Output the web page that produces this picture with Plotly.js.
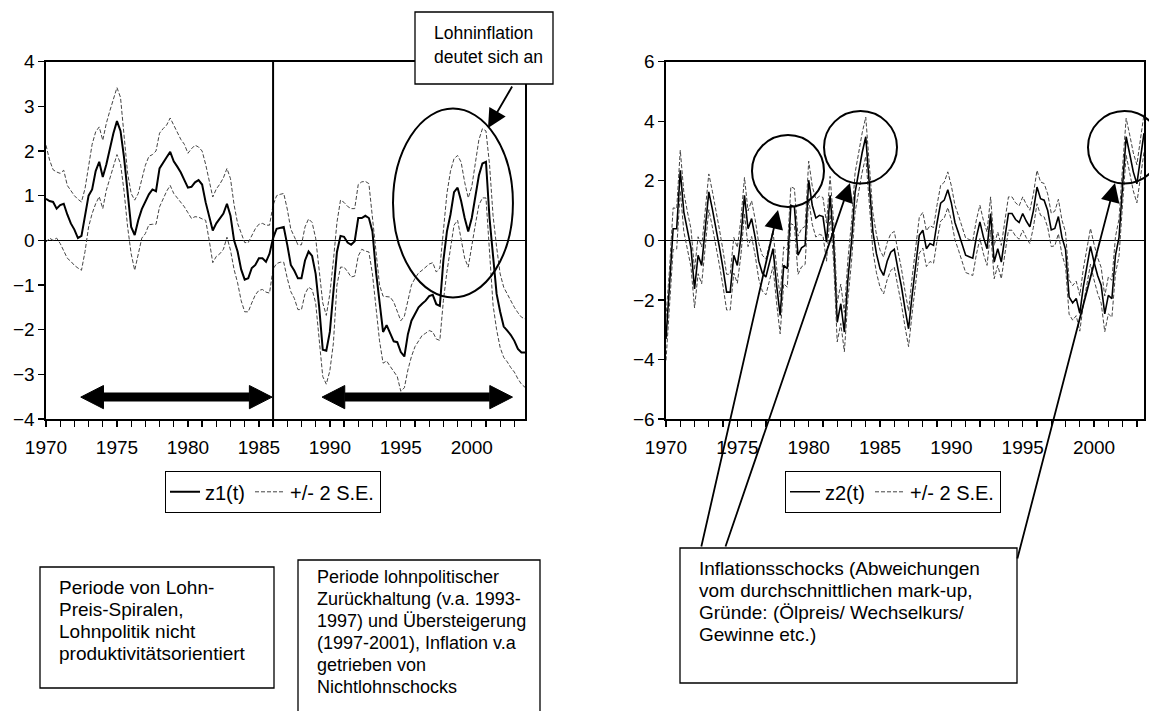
<!DOCTYPE html>
<html>
<head>
<meta charset="utf-8">
<script src="https://cdn.plot.ly/plotly-3.0.1.min.js"></script>
<style>html,body{margin:0;padding:0;background:#fff;}#chart{width:1149px;height:711px;}</style>
</head>
<body>
<div id="chart"></div>
<script>
// ---------- DATA (quarterly, first observation 1970Q1) ----------
const startYear = 1970;
const tickYears = [1970,1971,1972,1973,1974,1975,1976,1977,1978,1979,1980,1981,1982,1983,1984,1985,1986,1987,1988,1989,1990,1991,1992,1993,1994,1995,1996,1997,1998,1999,2000,2001,2002,2003];
const labelYears = [1970,1975,1980,1985,1990,1995,2000];
const leftYTicks = [-4,-3,-2,-1,0,1,2,3,4];
const rightYTicks = [-6,-4,-2,0,2,4,6];

const z1 = [0.93,0.88,0.86,0.71,0.79,0.82,0.58,0.38,0.24,0.05,
  0.10,0.55,1.00,1.14,1.55,1.76,1.42,1.70,2.05,2.40,
  2.67,2.45,1.85,1.00,0.30,0.12,0.45,0.70,0.86,1.03,
  1.14,1.10,1.61,1.75,1.86,1.98,1.77,1.65,1.52,1.35,
  1.18,1.20,1.30,1.35,1.25,0.85,0.55,0.22,0.38,0.48,
  0.60,0.82,0.55,0.00,-0.25,-0.65,-0.88,-0.85,-0.62,-0.55,
  -0.40,-0.40,-0.48,-0.30,0.05,0.26,0.28,0.30,-0.10,-0.55,
  -0.68,-0.85,-0.85,-0.45,-0.25,-0.35,-0.75,-1.50,-2.45,-2.47,
  -2.05,-1.20,-0.26,0.10,0.08,-0.05,-0.10,-0.02,0.50,0.50,
  0.55,0.50,0.20,-0.70,-1.45,-2.05,-1.90,-2.10,-2.26,-2.28,
  -2.50,-2.60,-2.10,-1.80,-1.65,-1.50,-1.42,-1.35,-1.25,-1.22,
  -1.43,-1.47,-0.45,0.20,0.58,1.08,1.18,0.88,0.50,0.20,
  0.50,0.95,1.45,1.72,1.76,0.50,-0.40,-1.20,-1.60,-1.93,
  -2.02,-2.12,-2.25,-2.43,-2.51,-2.51];

const z1Upper = [2.13,1.80,1.58,1.53,1.50,1.57,1.23,1.10,1.00,0.92,
  0.86,1.16,1.70,2.15,2.43,2.54,2.24,2.62,2.90,3.15,
  3.42,3.20,2.40,1.50,1.05,0.90,1.05,1.35,1.68,1.88,
  1.92,2.00,2.40,2.50,2.58,2.74,2.58,2.42,2.26,2.15,
  1.95,2.05,2.13,2.09,2.00,1.70,1.33,0.97,1.15,1.26,
  1.40,1.61,1.38,0.80,0.38,0.15,-0.05,-0.05,0.12,0.26,
  0.36,0.38,0.34,0.34,0.79,1.00,1.03,1.05,0.70,0.25,
  0.08,-0.10,-0.10,0.30,0.48,0.40,0.05,-0.70,-1.40,-1.68,
  -1.20,-0.45,0.40,0.90,0.85,0.76,0.71,0.71,1.25,1.31,
  1.32,1.27,0.49,-0.25,-1.00,-1.25,-1.26,-1.27,-1.38,-1.58,
  -1.80,-1.70,-1.32,-1.00,-0.85,-0.73,-0.67,-0.60,-0.53,-0.50,
  -0.71,-0.62,0.20,1.05,1.55,1.83,1.90,1.75,1.30,0.95,
  1.20,1.70,2.25,2.50,2.45,1.70,0.55,-0.15,-0.75,-1.05,
  -1.20,-1.38,-1.50,-1.62,-1.72,-1.76];

const z1Lower = [-0.04,0.05,0.00,0.05,-0.07,-0.22,-0.40,-0.47,-0.56,-0.62,
  -0.67,-0.25,0.30,0.60,0.82,0.98,0.71,1.12,1.40,1.70,
  1.92,1.72,1.10,0.30,-0.30,-0.67,-0.30,0.05,0.15,0.35,
  0.36,0.36,0.75,0.92,1.10,1.23,1.05,0.95,0.85,0.75,
  0.62,0.49,0.53,0.52,0.48,0.45,0.00,-0.50,-0.36,-0.30,
  -0.20,0.07,-0.22,-0.65,-0.95,-1.35,-1.60,-1.60,-1.40,-1.22,
  -1.12,-1.10,-1.16,-1.18,-0.64,-0.52,-0.49,-0.49,-0.85,-1.15,
  -1.30,-1.55,-1.55,-1.20,-1.05,-1.10,-1.40,-2.30,-3.05,-3.22,
  -2.92,-2.30,-1.00,-0.60,-0.60,-0.70,-0.82,-0.80,-0.35,-0.20,
  -0.24,-0.26,-0.75,-1.50,-2.25,-2.75,-2.70,-2.82,-2.95,-3.05,
  -3.38,-3.30,-2.90,-2.60,-2.38,-2.25,-2.13,-2.08,-2.02,-2.05,
  -2.21,-2.24,-1.35,-0.70,-0.20,0.34,0.45,0.05,-0.40,-0.60,
  -0.10,0.35,0.79,0.95,0.95,-0.20,-1.45,-2.00,-2.40,-2.62,
  -2.72,-2.85,-2.95,-3.10,-3.22,-3.29];

const z2 = [-3.31,-1.63,0.39,0.39,2.35,0.95,0.30,-0.25,-1.63,-0.50,
  -0.84,0.39,1.63,1.05,0.45,-0.25,-0.95,-1.74,-1.74,-0.50,
  -0.84,0.10,1.51,0.39,0.73,0.10,-0.70,-1.10,-1.23,-0.80,
  -0.28,-1.50,-2.52,-0.84,-0.95,1.18,1.12,-0.50,-0.25,-0.17,
  2.02,1.18,0.75,0.84,0.80,-0.06,1.51,-0.06,-2.75,-2.13,
  -3.08,-1.30,-0.06,1.60,2.35,2.95,3.48,1.96,0.28,-0.45,
  -0.95,-1.18,-0.70,-0.40,-0.30,-0.95,-1.55,-2.30,-2.97,-1.85,
  -0.75,0.17,0.34,-0.28,-0.11,-0.17,0.60,1.25,1.35,1.70,
  1.25,0.60,0.25,-0.15,-0.50,-0.55,-0.60,0.10,0.62,0.10,
  -0.28,0.90,-0.73,-0.28,-0.73,0.10,0.90,0.90,0.70,0.60,
  0.90,0.65,0.45,1.00,1.79,1.40,1.35,1.00,0.35,0.40,
  0.80,0.10,-0.30,-1.90,-2.10,-1.95,-2.45,-1.55,-0.84,-0.20,
  -0.73,-1.18,-1.51,-2.47,-1.85,-1.96,-0.50,0.10,1.85,3.48,
  2.90,2.30,1.90,2.80,3.60];

// standard error of z2 (band = z2 +/- 2 S.E.)
const z2SE = [0.36,0.35,0.35,0.34,0.34,0.33,0.33,0.32,0.32,0.31,
  0.31,0.31,0.30,0.30,0.30,0.30,0.30,0.30,0.30,0.30,
  0.30,0.30,0.30,0.30,0.30,0.30,0.30,0.30,0.30,0.30,
  0.30,0.30,0.31,0.31,0.31,0.31,0.31,0.32,0.32,0.32,
  0.32,0.32,0.32,0.32,0.32,0.32,0.32,0.33,0.33,0.33,
  0.33,0.33,0.33,0.33,0.33,0.33,0.33,0.32,0.32,0.32,
  0.31,0.31,0.31,0.31,0.30,0.30,0.30,0.30,0.30,0.30,
  0.30,0.30,0.30,0.30,0.30,0.30,0.30,0.30,0.30,0.30,
  0.29,0.29,0.29,0.29,0.29,0.29,0.29,0.29,0.28,0.28,
  0.28,0.28,0.28,0.28,0.28,0.28,0.28,0.28,0.28,0.28,
  0.28,0.28,0.28,0.28,0.28,0.28,0.28,0.28,0.28,0.29,
  0.29,0.29,0.29,0.29,0.29,0.29,0.30,0.30,0.30,0.30,
  0.30,0.30,0.30,0.30,0.31,0.31,0.31,0.31,0.31,0.31,
  0.32,0.32,0.32,0.32,0.32];

const box1Lines = ['Periode von Lohn-','Preis-Spiralen,','Lohnpolitik nicht','produktivitätsorientiert'];
const box2Lines = ['Periode lohnpolitischer','Zurückhaltung (v.a. 1993-','1997) und Übersteigerung','(1997-2001), Inflation v.a','getrieben von','Nichtlohnschocks'];
const box3Lines = ['Inflationsschocks (Abweichungen','vom durchschnittlichen mark-up,','Gründe: (Ölpreis/ Wechselkurs/','Gewinne etc.)'];
const box4Lines = ['Lohninflation','deutet sich an'];

// ---------- BUILD ----------
const W = 1149, H = 711;
const FONT = 'Liberation Sans, Arial, sans-serif';
const px = X => X / W;
const py = Y => 1 - Y / H;

const t1 = z1.map((_, i) => startYear + i / 4);
const t2 = z2.map((_, i) => startYear + i / 4);
const z2Upper = z2.map((v, i) => v + 2 * z2SE[i]);
const z2Lower = z2.map((v, i) => v - 2 * z2SE[i]);

const mainLine = {color: '#000', width: 2};
const bandLine = {color: '#444', width: 1, dash: '4px,2px'};

const traces = [
  {x: t1, y: z1, type: 'scatter', mode: 'lines', name: 'z1(t)', line: mainLine, xaxis: 'x', yaxis: 'y', legend: 'legend'},
  {x: t1, y: z1Upper, type: 'scatter', mode: 'lines', name: '+/- 2 S.E.', line: bandLine, xaxis: 'x', yaxis: 'y', legend: 'legend', legendgroup: 'se1'},
  {x: t1, y: z1Lower, type: 'scatter', mode: 'lines', name: '+/- 2 S.E.', line: bandLine, xaxis: 'x', yaxis: 'y', showlegend: false, legendgroup: 'se1'},
  {x: t2, y: z2, type: 'scatter', mode: 'lines', name: 'z2(t)', line: {color: '#000', width: 1.6}, xaxis: 'x2', yaxis: 'y2', legend: 'legend2'},
  {x: t2, y: z2Upper, type: 'scatter', mode: 'lines', name: '+/- 2 S.E.', line: bandLine, xaxis: 'x2', yaxis: 'y2', legend: 'legend2', legendgroup: 'se2'},
  {x: t2, y: z2Lower, type: 'scatter', mode: 'lines', name: '+/- 2 S.E.', line: bandLine, xaxis: 'x2', yaxis: 'y2', showlegend: false, legendgroup: 'se2'}
];

const tickText = tickYears.map(y => labelYears.includes(y) ? String(y) : '');
const plotTop = 61.7, plotBottom = 419;
const yDom = [py(plotBottom), py(plotTop)];
const TICKSIZE = 19;

function xAxis(domain, range, anchor) {
  return {domain, range, anchor, tickmode: 'array', tickvals: tickYears, ticktext: tickText,
    ticks: 'outside', ticklen: 6, tickwidth: 1.3, tickcolor: '#000', ticklabelstandoff: 5,
    showline: true, linecolor: '#000', linewidth: 1.6, mirror: true,
    showgrid: false, zeroline: false, tickfont: {family: FONT, size: TICKSIZE, color: '#000'}, fixedrange: true};
}
function yAxis(range, vals, anchor) {
  return {domain: yDom, range, anchor, tickmode: 'array', tickvals: vals,
    ticks: 'outside', ticklen: 6, tickwidth: 1.3, tickcolor: '#000',
    showline: true, linecolor: '#000', linewidth: 1.6, mirror: true,
    showgrid: false, zeroline: true, zerolinecolor: '#000', zerolinewidth: 1.2,
    tickfont: {family: FONT, size: TICKSIZE, color: '#000'}, fixedrange: true};
}

const shapes = [];
const annotations = [];

// vertical separator at 1986 (left panel)
shapes.push({type: 'line', xref: 'x', yref: 'paper', x0: 1986, x1: 1986, y0: yDom[0], y1: yDom[1], line: {color: '#000', width: 2}});

// double-headed period arrows (left panel)
function doubleArrow(xa, xb, yv, headLen, headHalf) {
  shapes.push({type: 'line', xref: 'x', yref: 'y', x0: xa + headLen, x1: xb - headLen, y0: yv, y1: yv, line: {color: '#000', width: 9}});
  shapes.push({type: 'path', xref: 'x', yref: 'y', path: `M${xa},${yv} L${xa + headLen},${yv + headHalf} L${xa + headLen},${yv - headHalf} Z`, fillcolor: '#000', line: {color: '#000', width: 1}});
  shapes.push({type: 'path', xref: 'x', yref: 'y', path: `M${xb},${yv} L${xb - headLen},${yv + headHalf} L${xb - headLen},${yv - headHalf} Z`, fillcolor: '#000', line: {color: '#000', width: 1}});
}
doubleArrow(1972.45, 1985.93, -3.51, 1.6, 0.26);
doubleArrow(1989.45, 2002.87, -3.51, 1.6, 0.26);

// ellipse (left panel)
shapes.push({type: 'circle', xref: 'x', yref: 'y', x0: 1994.45, x1: 2002.9, y0: -1.28, y1: 2.95, line: {color: '#000', width: 2}});

// circles (right panel)
[[752, 135, 824, 207], [824, 111, 897, 183.5], [1088, 111, 1161, 183.5]].forEach(c => {
  shapes.push({type: 'circle', xref: 'paper', yref: 'paper', x0: px(c[0]), x1: px(c[2]), y0: py(c[3]), y1: py(c[1]), line: {color: '#000', width: 2}});
});

// text boxes
function textBox(x0, y0, x1, y1, lines, tx, ty0, step, size) {
  shapes.push({type: 'rect', xref: 'paper', yref: 'paper', x0: px(x0), x1: px(x1), y0: py(y1), y1: py(y0), line: {color: '#000', width: 1.3}, fillcolor: 'rgba(255,255,255,1)', layer: 'above'});
  lines.forEach((s, i) => annotations.push({xref: 'paper', yref: 'paper', x: px(tx), y: py(ty0 + i * step), xanchor: 'left', yanchor: 'middle', showarrow: false, text: s, font: {family: FONT, size: size, color: '#000'}}));
}
textBox(40, 567, 274, 688, box1Lines, 57, 587, 22, 19);
textBox(298, 560, 540, 716, box2Lines, 315, 577, 22, 18);
textBox(680, 548, 1017, 683, box3Lines, 697, 568, 22, 19);
textBox(415, 12, 553, 84, box4Lines, 432, 33, 24, 17.5);

// arrows
function arrow(tipX, tipY, tailX, tailY) {
  annotations.push({xref: 'paper', yref: 'paper', x: px(tipX), y: py(tipY), ax: tailX - tipX, ay: tailY - tipY, axref: 'pixel', ayref: 'pixel', text: '', showarrow: true, arrowhead: 2, arrowsize: 2.1, arrowwidth: 1.8, arrowcolor: '#000'});
}
arrow(488, 128, 513, 85);
arrow(778, 210, 701, 548);
arrow(850, 183, 725, 548);
arrow(1115, 183, 1017, 560);

const legendBase = {orientation: 'h', xanchor: 'left', yanchor: 'top', bgcolor: '#fff', bordercolor: '#000', borderwidth: 1.3,
  font: {family: FONT, size: 20, color: '#000'}, itemwidth: 30, tracegroupgap: 0, itemclick: false, itemdoubleclick: false};

const layout = {
  width: W, height: H, margin: {l: 0, r: 0, t: 0, b: 0},
  paper_bgcolor: '#fff', plot_bgcolor: '#fff', showlegend: true,
  xaxis: xAxis([px(46), px(525)], [1970, 2003.75], 'y'),
  yaxis: yAxis([-4, 4], leftYTicks, 'x'),
  xaxis2: xAxis([px(666), px(1144)], [1970, 2003.5], 'y2'),
  yaxis2: yAxis([-6, 6], rightYTicks, 'x2'),
  legend: Object.assign({}, legendBase, {x: px(165), y: py(471)}),
  legend2: Object.assign({}, legendBase, {x: px(785), y: py(471)}),
  shapes, annotations
};

Plotly.newPlot('chart', traces, layout, {staticPlot: true, displayModeBar: false});
</script>
</body>
</html>
